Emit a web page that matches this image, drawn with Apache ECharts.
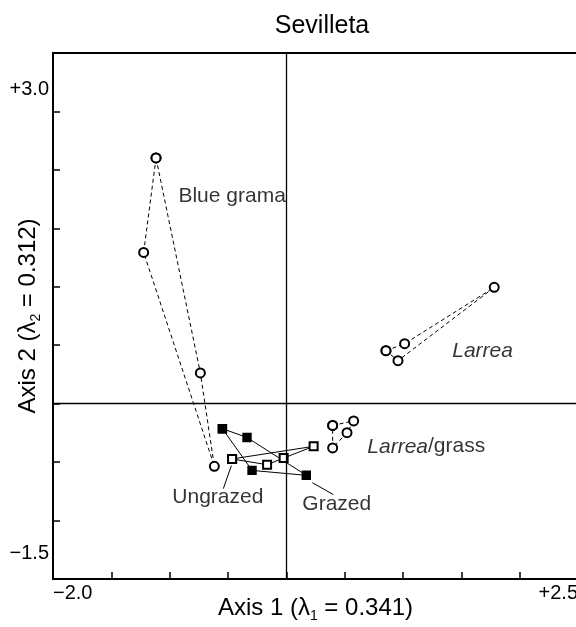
<!DOCTYPE html>
<html lang="en">
<head>
    <meta charset="UTF-8">
    <title>Sevilleta</title>
    <style>
        html, body { margin: 0; padding: 0; background: #fff; }
        #container { width: 576px; height: 627px; }
    </style>
</head>
<body>
    <div id="container"></div>
    <script src="https://cdn.jsdelivr.net/npm/echarts@6/dist/echarts.min.js"></script>
    <script>
        // ordination scores, each group is a closed loop of sites
        const blueGrama = [[-1.117, 2.102], [-1.223, 1.294], [-0.617, -0.536], [-0.737, 0.263], [-1.117, 2.102]];
        const larrea = [[0.854, 0.453], [1.014, 0.513], [1.782, 0.995], [0.957, 0.368], [0.854, 0.453]];
        const larreaGrass = [[0.397, -0.186], [0.577, -0.148], [0.520, -0.248], [0.397, -0.379], [0.397, -0.186]];
        const grazed = [[-0.548, -0.214], [-0.337, -0.289], [0.171, -0.613], [-0.294, -0.571], [-0.548, -0.214]];
        const ungrazed = [[-0.465, -0.473], [-0.165, -0.522], [-0.023, -0.465], [0.234, -0.365], [-0.465, -0.473]];

        // leader lines from labels to points
        const ungrazedLeader = [[-0.471, -0.530], [-0.540, -0.727]];
        const grazedLeader = [[0.223, -0.676], [0.403, -0.778]];

        // tick labels (only the ends are labelled)
        const xTickVals = [-2.0, 2.5];
        const xTickText = ['\u22122.0', '+2.5'];
        const yTickVals = [-1.5, 3.0];
        const yTickText = ['\u22121.5', '+3.0'];

        // text annotations: [x, y, text, side]
        const notes = [
            [-0.925, 1.771, 'Blue grama', 'right'],
            [1.422, 0.445, '{i|Larrea}', 'right'],
            [0.694, -0.368, '{i|Larrea}/grass', 'right'],
            [-0.197, -0.796, 'Ungrazed', 'left'],
            [0.137, -0.864, 'Grazed', 'right']
        ];

        const font = 'Liberation Sans';

        function loop(data, dashed, symbol) {
            return {
                type: 'line',
                data: data,
                symbol: symbol,
                symbolSize: symbol === 'emptyCircle' ? 9 : 8,
                showAllSymbol: true,
                animation: false,
                z: 3,
                lineStyle: { color: '#000', width: 1, type: dashed ? [4, 3] : 'solid' },
                itemStyle: { color: '#000', borderColor: '#000', borderWidth: 1.4 }
            };
        }

        function leader(data) {
            return {
                type: 'line', data: data, symbol: 'none', animation: false, z: 2,
                lineStyle: { color: '#000', width: 1 }
            };
        }

        const nameStyle = {
            fontFamily: font, fontSize: 24, color: '#000', lineHeight: 30,
            rich: { s: { fontSize: 14, lineHeight: 14, verticalAlign: 'bottom', fontFamily: font, color: '#000' } }
        };

        const option = {
            backgroundColor: '#fff',
            title: {
                text: 'Sevilleta',
                left: 317,
                top: 9,
                textAlign: 'center',
                textStyle: { fontFamily: font, fontSize: 25, fontWeight: 'normal', color: '#000' }
            },
            grid: {
                left: 53, top: 53, width: 525, height: 526,
                containLabel: false, outerBoundsMode: 'none',
                show: true, borderColor: '#000', borderWidth: 2
            },
            xAxis: {
                type: 'value', min: -2.0, max: 2.5, interval: 0.5,
                name: 'Axis 1 (\u03bb{s|1} = 0.341)',
                nameLocation: 'middle', nameGap: 14, nameMoveOverlap: false,
                nameTextStyle: nameStyle,
                splitLine: { show: false },
                axisLine: { onZero: false, lineStyle: { color: '#000', width: 2 } },
                axisTick: { inside: true, length: 7, lineStyle: { color: '#000', width: 1.5 } },
                axisLabel: {
                    showMinLabel: true, showMaxLabel: true,
                    alignMinLabel: 'left', alignMaxLabel: 'right',
                    margin: 4,
                    fontFamily: font, fontSize: 20, color: '#000',
                    formatter: function (v) {
                        const i = xTickVals.findIndex(t => Math.abs(t - v) < 1e-9);
                        return i < 0 ? '' : xTickText[i];
                    }
                }
            },
            yAxis: {
                type: 'value', min: -1.5, max: 3.0, interval: 0.5,
                name: 'Axis 2 (\u03bb{s|2} = 0.312)',
                nameLocation: 'middle', nameGap: 10, nameRotate: 90, nameMoveOverlap: false,
                nameTextStyle: nameStyle,
                splitLine: { show: false },
                axisLine: { onZero: false, lineStyle: { color: '#000', width: 2 } },
                axisTick: { inside: true, length: 7, lineStyle: { color: '#000', width: 1.5 } },
                axisLabel: {
                    showMinLabel: true, showMaxLabel: true,
                    verticalAlignMinLabel: 'bottom', verticalAlignMaxLabel: 'top',
                    margin: 4,
                    fontFamily: font, fontSize: 20, color: '#000',
                    formatter: function (v) {
                        const i = yTickVals.findIndex(t => Math.abs(t - v) < 1e-9);
                        if (i < 0) return '';
                        return (i === 0 ? '{lo|' : '{hi|') + yTickText[i] + '}';
                    },
                    rich: {
                        lo: { lineHeight: 52, fontFamily: font, fontSize: 20, color: '#000' },
                        hi: { lineHeight: 72, fontFamily: font, fontSize: 20, color: '#000' }
                    }
                }
            },
            series: [
                {
                    // cross lines through the origin
                    type: 'line', data: [], animation: false, z: 1,
                    markLine: {
                        silent: true, symbol: 'none', animation: false,
                        label: { show: false },
                        lineStyle: { color: '#000', width: 1.3, type: 'solid' },
                        data: [{ xAxis: 0 }, { yAxis: 0 }]
                    }
                },
                loop(blueGrama, true, 'emptyCircle'),
                loop(larrea, true, 'emptyCircle'),
                loop(larreaGrass, true, 'emptyCircle'),
                loop(ungrazed, false, 'emptyRect'),
                loop(grazed, false, 'rect'),
                leader(ungrazedLeader),
                leader(grazedLeader),
                {
                    type: 'scatter', symbolSize: 0, animation: false, z: 4, silent: true,
                    itemStyle: { color: '#000' },
                    data: notes.map(n => ({
                        value: [n[0], n[1]],
                        label: {
                            show: true, position: n[3], distance: 0, formatter: n[2],
                            fontFamily: font, fontSize: 21, color: '#000',
                            rich: { i: { fontStyle: 'italic', fontFamily: font, fontSize: 21, color: '#000' } }
                        }
                    }))
                }
            ]
        };

        const chart = echarts.init(document.getElementById('container'));
        chart.setOption(option);
    </script>
</body>
</html>
